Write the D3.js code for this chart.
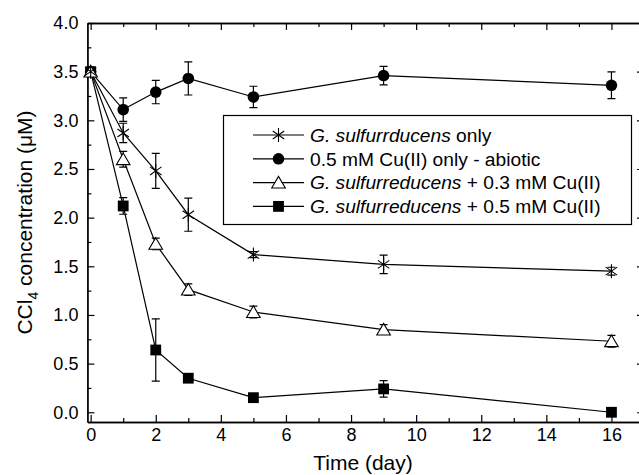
<!DOCTYPE html>
<html>
<head>
<meta charset="utf-8">
<script src="https://cdn.jsdelivr.net/npm/d3@7"></script>
<style>
  body { margin: 0; background: #fff; }
  svg { display: block; font-family: "Liberation Sans", Arial, sans-serif; }
</style>
</head>
<body>
<div id="chart"></div>
<script>
const days = [0, 1, 2, 3, 5, 9, 16];

const gsOnly = [3.5, 2.87, 2.48, 2.03, 1.62, 1.52, 1.45];
const gsOnlyErr = [0, 0.10, 0.18, 0.17, 0.03, 0.095, 0.04];

const cuOnly = [3.5, 3.11, 3.29, 3.43, 3.24, 3.46, 3.36];
const cuOnlyErr = [0, 0.12, 0.12, 0.17, 0.11, 0.095, 0.137];

const gsCu03 = [3.5, 2.6, 1.73, 1.26, 1.03, 0.85, 0.73];
const gsCu03Err = [0, 0.08, 0.06, 0.06, 0.06, 0.05, 0.06];

const gsCu05 = [3.5, 2.12, 0.64, 0.35, 0.15, 0.24, 0.0];
const gsCu05Err = [0, 0.085, 0.32, 0.03, 0.03, 0.085, 0];

const xMajor = [0, 2, 4, 6, 8, 10, 12, 14, 16];
const xMinor = [1, 3, 5, 7, 9, 11, 13, 15];
const yMajor = [0, 0.5, 1, 1.5, 2, 2.5, 3, 3.5, 4];
const yMinor = [0.25, 0.75, 1.25, 1.75, 2.25, 2.75, 3.25, 3.75];

// legend: [italic part, plain part, symbol]
const series = [
  { values: gsOnly, err: gsOnlyErr, sym: 'star', it: 'G. sulfurrducens', rest: ' only' },
  { values: cuOnly, err: cuOnlyErr, sym: 'circle', it: '', rest: '0.5 mM Cu(II) only - abiotic' },
  { values: gsCu03, err: gsCu03Err, sym: 'triangle', it: 'G. sulfurreducens', rest: ' + 0.3 mM Cu(II)' },
  { values: gsCu05, err: gsCu05Err, sym: 'square', it: 'G. sulfurreducens', rest: ' + 0.5 mM Cu(II)' }
];
const drawOrder = [3, 1, 2, 0];

const width = 639, height = 475;
const margin = { top: 23, right: -5, bottom: 53, left: 87.4 };

const svg = d3.select('#chart').append('svg')
  .attr('width', width)
  .attr('height', height);

const x = d3.scaleLinear().domain([-0.1, 17]).range([margin.left, width - margin.right]);
const y = d3.scaleLinear().domain([-0.1, 4.0]).range([height - margin.bottom, margin.top]);

function styleAxis(g) {
  g.select('.domain').attr('stroke', '#000').attr('stroke-width', 1.3);
  g.selectAll('.tick line').attr('stroke', '#000').attr('stroke-width', 1.2);
  g.selectAll('.tick text').attr('fill', '#000');
}

// bottom
svg.append('g').attr('transform', `translate(0,${y(-0.1)})`)
  .call(d3.axisBottom(x).tickValues(xMajor).tickSize(-7).tickSizeOuter(0).tickPadding(6))
  .call(g => g.selectAll('text').attr('font-size', 18))
  .call(styleAxis);
svg.append('g').attr('transform', `translate(0,${y(-0.1)})`)
  .call(d3.axisBottom(x).tickValues(xMinor).tickSize(-4).tickSizeOuter(0).tickFormat(''))
  .call(styleAxis);
// top
svg.append('g').attr('transform', `translate(0,${y(4)})`)
  .call(d3.axisTop(x).tickValues(xMajor).tickSize(-7).tickSizeOuter(0).tickFormat(''))
  .call(styleAxis);
svg.append('g').attr('transform', `translate(0,${y(4)})`)
  .call(d3.axisTop(x).tickValues(xMinor).tickSize(-4).tickSizeOuter(0).tickFormat(''))
  .call(styleAxis);
// left
svg.append('g').attr('transform', `translate(${x(-0.1)},0)`)
  .call(d3.axisLeft(y).tickValues(yMajor).tickSize(-7).tickSizeOuter(0).tickPadding(9).tickFormat(d3.format('.1f')))
  .call(g => g.selectAll('text').attr('font-size', 18))
  .call(styleAxis);
svg.append('g').attr('transform', `translate(${x(-0.1)},0)`)
  .call(d3.axisLeft(y).tickValues(yMinor).tickSize(-4).tickSizeOuter(0).tickFormat(''))
  .call(styleAxis);
// right
svg.append('g').attr('transform', `translate(${x(17)},0)`)
  .call(d3.axisRight(y).tickValues(yMajor).tickSize(-7).tickSizeOuter(0).tickFormat(''))
  .call(styleAxis);
svg.append('g').attr('transform', `translate(${x(17)},0)`)
  .call(d3.axisRight(y).tickValues(yMinor).tickSize(-4).tickSizeOuter(0).tickFormat(''))
  .call(styleAxis);

// axis titles
svg.append('text')
  .attr('x', 363).attr('y', 470)
  .attr('text-anchor', 'middle')
  .attr('font-size', 21)
  .text('Time (day)');

const yTitle = svg.append('text')
  .attr('transform', `translate(32,${(y(-0.1) + y(4)) / 2}) rotate(-90)`)
  .attr('text-anchor', 'middle')
  .attr('font-size', 21);
yTitle.append('tspan').text('CCl');
yTitle.append('tspan').attr('font-size', 14).attr('dy', 6).text('4');
yTitle.append('tspan').attr('dy', -6).text(' concentration (\u03BCM)');

function drawSymbol(g, sym, cx, cy) {
  if (sym === 'circle') {
    g.append('circle').attr('cx', cx).attr('cy', cy).attr('r', 5.8).attr('fill', '#000');
  } else if (sym === 'square') {
    g.append('rect').attr('x', cx - 5.4).attr('y', cy - 5.4).attr('width', 10.8).attr('height', 10.8).attr('fill', '#000');
  } else if (sym === 'triangle') {
    g.append('path')
      .attr('d', `M${cx},${cy - 6.2}L${cx + 6.8},${cy + 5.4}L${cx - 6.8},${cy + 5.4}Z`)
      .attr('fill', '#fff').attr('stroke', '#000').attr('stroke-width', 1.1);
  } else {
    const r = 7;
    const p = [];
    [90, 35, -35].forEach(a => {
      const rad = a * Math.PI / 180;
      const dx = r * Math.cos(rad), dy = r * Math.sin(rad);
      p.push(`M${cx - dx},${cy - dy}L${cx + dx},${cy + dy}`);
    });
    g.append('path').attr('d', p.join('')).attr('stroke', '#000').attr('stroke-width', 1.1).attr('fill', 'none');
  }
}

const line = d3.line().x(d => x(d[0])).y(d => y(d[1]));
const plot = svg.append('g');

drawOrder.forEach(i => {
  const s = series[i];
  const pts = days.map((d, j) => [d, s.values[j], s.err[j]]);
  plot.append('path')
    .datum(pts)
    .attr('d', line)
    .attr('fill', 'none')
    .attr('stroke', '#000')
    .attr('stroke-width', 1.2);
});

drawOrder.forEach(i => {
  const s = series[i];
  const g = plot.append('g');
  days.forEach((d, j) => {
    const e = s.err[j];
    if (e > 0) {
      const cx = x(d), y1 = y(s.values[j] + e), y2 = y(s.values[j] - e);
      g.append('path')
        .attr('d', `M${cx},${y1}V${y2}M${cx - 4},${y1}H${cx + 4}M${cx - 4},${y2}H${cx + 4}`)
        .attr('stroke', '#000').attr('stroke-width', 1.2).attr('fill', 'none');
    }
  });
  days.forEach((d, j) => drawSymbol(g, s.sym, x(d), y(s.values[j])));
});

// legend
const legend = svg.append('g');
legend.append('rect')
  .attr('x', 223.5).attr('y', 115.5).attr('width', 408).attr('height', 109)
  .attr('fill', '#fff').attr('stroke', '#000').attr('stroke-width', 1.2);

series.forEach((s, i) => {
  const ly = 135 + i * 23.8;
  legend.append('line')
    .attr('x1', 253).attr('x2', 304).attr('y1', ly).attr('y2', ly)
    .attr('stroke', '#000').attr('stroke-width', 1.2);
  drawSymbol(legend, s.sym, 278.5, ly);
  const t = legend.append('text')
    .attr('x', 310).attr('y', ly + 6.8)
    .attr('font-size', 19.2);
  if (s.it) t.append('tspan').attr('font-style', 'italic').text(s.it);
  t.append('tspan').text(s.rest);
});
</script>
</body>
</html>
